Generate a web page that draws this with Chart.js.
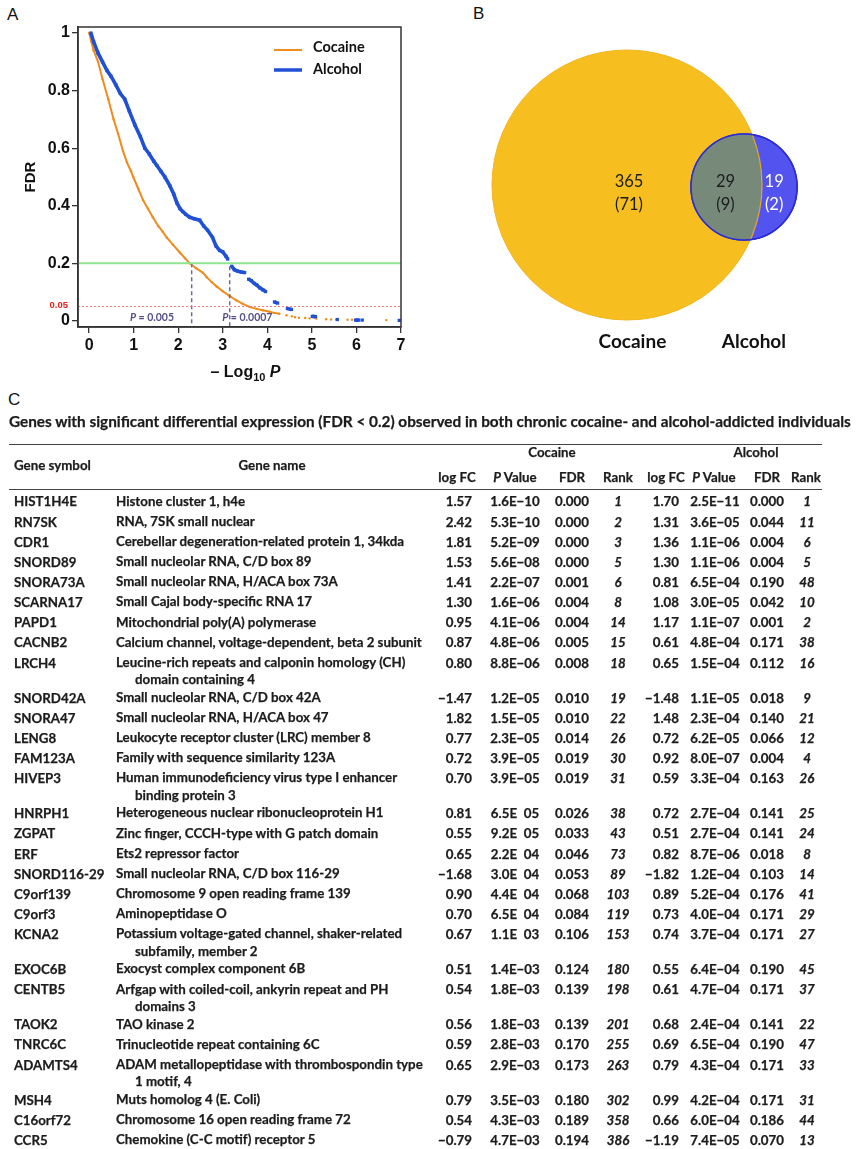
<!DOCTYPE html>
<html>
<head>
<meta charset="utf-8">
<script src="https://cdn.jsdelivr.net/npm/chart.js@4.4.1/dist/chart.umd.min.js"></script>
<style>
  html, body { margin: 0; padding: 0; background: #fff; }
  #page { position: relative; width: 860px; height: 1149px; overflow: hidden;
          font-family: Lato, "Open Sans", sans-serif; color: #1c1c1c; }
  .letter { position: absolute; font-family: "Liberation Sans", Arial, sans-serif;
            font-size: 17px; line-height: 17px; color: #111; }
  #chartA { position: absolute; left: 0; top: 0; }
  #chartB { position: absolute; left: 420px; top: 0; }
  #tableC { position: absolute; left: 0; top: 0; width: 860px; height: 1149px; }
  .t { position: absolute; white-space: nowrap; font-weight: 700; font-size: 13.3px; line-height: 16px;
       -webkit-text-stroke: 0.25px #1c1c1c; }
  .it { font-style: italic; }
  .name { white-space: normal; width: 293px; padding-left: 19px; text-indent: -19px; line-height: 17.5px; }
  .rule { position: absolute; left: 9px; width: 813px; height: 0; border-top: 1px solid #444; }
  #caption { position: absolute; left: 9px; top: 413px; font-weight: 700; font-size: 14.5px;
             line-height: 18px; white-space: nowrap; transform-origin: left center;
             -webkit-text-stroke: 0.25px #1c1c1c; }
</style>
</head>
<body>
<div id="page">
  <div class="letter" style="left:7px;top:6px;">A</div>
  <div class="letter" style="left:473px;top:5px;">B</div>
  <div class="letter" style="left:8px;top:391px;">C</div>
  <canvas id="chartA" width="420" height="385"></canvas>
  <canvas id="chartB" width="440" height="385"></canvas>
  <div id="tableC"></div>
</div>
<script>
// ---------- Panel A: FDR against -log10 P ----------
const xTicks = [0, 1, 2, 3, 4, 5, 6, 7];
const yTicks = [0, 0.2, 0.4, 0.6, 0.8, 1];
const yTickLabels = ['0', '0.2', '0.4', '0.6', '0.8', '1'];

// Cocaine: -log10 P and FDR (null marks a break in the trace)
const cocaineLogP = [0.00, 0.05, 0.10, 0.20, 0.30, 0.43, 0.55, 0.65, 0.76, 0.85, 0.94, 0.99, 1.10, 1.21, 1.32, 1.43,
  1.55, 1.65, 1.74, 1.88, 2.04, 2.15, 2.26, 2.40, 2.55, 2.64, 2.75, 2.86, 3.00, 3.15, 3.30, 3.45, 3.60, 3.76, 3.90,
  4.05, 4.15, 4.27, null, 4.43, null, 4.55, null, 4.62, null, 4.71, null, 4.85, null, 4.95, null, 5.10, null, 5.32,
  null, 5.43, null, 5.55, null, 5.80, null, 5.90, null, 6.67];
const cocaineFDR = [1.00, 0.97, 0.94, 0.90, 0.84, 0.77, 0.70, 0.65, 0.59, 0.55, 0.52, 0.50, 0.46, 0.42, 0.39, 0.36,
  0.33, 0.31, 0.29, 0.265, 0.237, 0.218, 0.200, 0.183, 0.168, 0.152, 0.135, 0.120, 0.103, 0.087, 0.072, 0.059, 0.049,
  0.042, 0.037, 0.032, 0.028, 0.025, null, 0.020, null, 0.016, null, 0.013, null, 0.011, null, 0.010, null, 0.009, null,
  0.008, null, 0.006, null, 0.005, null, 0.005, null, 0.004, null, 0.004, null, 0.003];

// Alcohol: -log10 P and FDR (null marks a break in the trace)
const alcoholLogP = [0.04, 0.10, 0.20, 0.30, 0.40, 0.49, 0.60, 0.70, 0.80, 0.90, 1.03, 1.15, 1.25, 1.35, 1.45, 1.52,
  1.61, 1.70, 1.81, 1.90, 1.97, 2.04, 2.10, 2.17, 2.26, 2.36, 2.48, 2.57, 2.66, 2.77, 2.85, 2.93, 3.00, 3.07, 3.11, null,
  3.20, 3.26, 3.33, 3.41, 3.49, null, 3.58, 3.64, 3.71, 3.76, 3.83, 3.90, 3.96, null, 4.16, 4.23, null, 4.45, 4.54, null,
  5.01, 5.08, null, 5.57, null, 5.98, 6.05, null, 6.13, null, 6.96];
const alcoholFDR = [1.00, 0.97, 0.93, 0.90, 0.87, 0.85, 0.82, 0.79, 0.77, 0.73, 0.68, 0.64, 0.60, 0.58, 0.555, 0.54,
  0.52, 0.50, 0.47, 0.44, 0.41, 0.39, 0.38, 0.37, 0.36, 0.355, 0.35, 0.33, 0.315, 0.29, 0.26, 0.245, 0.24, 0.225, 0.215,
  null, 0.19, 0.178, 0.173, 0.170, 0.168, null, 0.145, 0.140, 0.130, 0.125, 0.115, 0.108, 0.102, null, 0.066, 0.062, null,
  0.043, 0.040, null, 0.016, 0.015, null, 0.005, null, 0.003, 0.003, null, 0.003, null, 0.002];

const fdrCutoff = 0.2;
const fdrStrict = 0.05;
const pAtCutoff = [0.005, 0.0007];      // cocaine, alcohol
const curveAtCutoff = [0.2, 0.19];      // FDR of each trace where its dashed drop line starts
const xRange = [-0.25, 7];
const yRange = [-0.021, 1.021];

const pts = (xs, ys) => xs.map((x, i) => ({ x: x, y: ys[i] }));
const cutLogP = pAtCutoff.map(p => -Math.log10(p));

const ORANGE = '#F08C1E', BLUE = '#2050D6';

const panelAExtras = {
  id: 'panelAExtras',
  afterDraw(chart) {
    const { ctx, chartArea: a, scales: { x, y } } = chart;
    ctx.save();
    // frame
    ctx.strokeStyle = '#333'; ctx.lineWidth = 1.5;
    ctx.strokeRect(a.left, a.top, a.right - a.left, a.bottom - a.top);
    // legend
    const items = chart.data.datasets.filter(d => d.inLegend);
    items.forEach((d, i) => {
      const ly = 50 + i * 20;
      ctx.strokeStyle = d.borderColor; ctx.lineWidth = d.legendWidth;
      ctx.beginPath(); ctx.moveTo(274, ly); ctx.lineTo(302, ly); ctx.stroke();
      ctx.fillStyle = '#111'; ctx.font = 'bold 14.5px Lato, sans-serif';
      ctx.textBaseline = 'middle'; ctx.textAlign = 'left';
      ctx.fillText(d.label, 313, ly - 3 + i * 2);
    });
    // strict FDR label
    ctx.fillStyle = '#E52222'; ctx.font = 'bold 9.5px "Liberation Sans", Arial, sans-serif';
    ctx.textAlign = 'right'; ctx.textBaseline = 'middle';
    ctx.fillText(String(fdrStrict), 68, y.getPixelForValue(fdrStrict) - 1);
    // P labels at the drop lines
    const pLab = [{ p: pAtCutoff[0], x: 1.41 }, { p: pAtCutoff[1], x: 3.55 }];
    pLab.forEach(l => {
      const px = x.getPixelForValue(l.x), py = y.getPixelForValue(0.013);
      const rest = ' = ' + l.p;
      ctx.font = 'italic bold 10.5px Lato, sans-serif';
      const wp = ctx.measureText('P').width;
      ctx.font = 'bold 10.5px Lato, sans-serif';
      const wr = ctx.measureText(rest).width;
      const x0 = px - (wp + wr) / 2;
      ctx.fillStyle = '#56508A'; ctx.textAlign = 'left';
      ctx.font = 'italic bold 10.5px Lato, sans-serif'; ctx.fillText('P', x0, py);
      ctx.font = 'bold 10.5px Lato, sans-serif'; ctx.fillText(rest, x0 + wp, py);
    });
    // x title:  – Log10 P
    ctx.fillStyle = '#111'; ctx.textBaseline = 'alphabetic';
    const f1 = 'bold 16px "Liberation Sans", Arial, sans-serif';
    const f2 = 'bold 11px "Liberation Sans", Arial, sans-serif';
    const f3 = 'italic bold 16px "Liberation Sans", Arial, sans-serif';
    const parts = [['\u2013 Log', f1, 0], ['10', f2, 4], [' P', f3, 0]];
    let tw = 0;
    parts.forEach(p => { ctx.font = p[1]; tw += ctx.measureText(p[0]).width; });
    let cx = (a.left + a.right) / 2 + 6 - tw / 2;
    parts.forEach(p => { ctx.font = p[1]; ctx.fillText(p[0], cx, 377 + p[2]); cx += ctx.measureText(p[0]).width; });
    // y title
    ctx.save();
    ctx.translate(31, (a.top + a.bottom) / 2);
    ctx.rotate(-Math.PI / 2);
    ctx.font = 'bold 15px "Liberation Sans", Arial, sans-serif';
    ctx.textAlign = 'center'; ctx.textBaseline = 'middle';
    ctx.fillText('FDR', 0, 0);
    ctx.restore();
    ctx.restore();
  }
};

const tickFont = { family: '"Liberation Sans", Arial, sans-serif', size: 16, weight: 'bold' };

new Chart(document.getElementById('chartA'), {
  type: 'scatter',
  data: {
    datasets: [
      { label: 'FDR cutoff', data: [{ x: xRange[0], y: fdrCutoff }, { x: xRange[1], y: fdrCutoff }],
        showLine: true, borderColor: '#8FE58F', borderWidth: 2, pointRadius: 0, order: 0 },
      { label: 'FDR strict', data: [{ x: xRange[0], y: fdrStrict }, { x: xRange[1], y: fdrStrict }],
        showLine: true, borderColor: '#F07A7A', borderWidth: 1, borderDash: [2, 2], pointRadius: 0, order: 0 },
      { label: 'Cocaine cutoff', data: [{ x: cutLogP[0], y: curveAtCutoff[0] }, { x: cutLogP[0], y: yRange[0] }],
        showLine: true, borderColor: '#6F679F', borderWidth: 1.5, borderDash: [4, 3], pointRadius: 0, order: 0 },
      { label: 'Alcohol cutoff', data: [{ x: cutLogP[1], y: curveAtCutoff[1] }, { x: cutLogP[1], y: yRange[0] }],
        showLine: true, borderColor: '#6F679F', borderWidth: 1.5, borderDash: [4, 3], pointRadius: 0, order: 0 },
      { label: 'Cocaine', inLegend: true, legendWidth: 2, data: pts(cocaineLogP, cocaineFDR), showLine: true,
        borderColor: ORANGE, backgroundColor: ORANGE, borderWidth: 2, pointRadius: 1.2, pointBorderWidth: 0,
        spanGaps: false, order: 2 },
      { label: 'Alcohol', inLegend: true, legendWidth: 3.5, data: pts(alcoholLogP, alcoholFDR), showLine: true,
        borderColor: BLUE, backgroundColor: BLUE, borderWidth: 3.6, pointStyle: 'rect', pointRadius: 2.3,
        pointBorderWidth: 0, spanGaps: false, order: 1 }
    ]
  },
  options: {
    responsive: false, animation: false,
    layout: { padding: { top: 27, right: 19, left: 0, bottom: 0 } },
    plugins: { legend: { display: false }, tooltip: { enabled: false } },
    scales: {
      x: {
        type: 'linear', min: xRange[0], max: xRange[1],
        afterBuildTicks: s => { s.ticks = xTicks.map(v => ({ value: v })); },
        afterFit: s => { s.height = 58; },
        grid: { drawOnChartArea: false, drawTicks: true, tickLength: 6, color: '#333', lineWidth: 1.3 },
        border: { display: true, color: '#333', width: 1.5 },
        ticks: { color: '#111', font: tickFont, padding: 3, maxRotation: 0, autoSkip: false }
      },
      y: {
        type: 'linear', min: yRange[0], max: yRange[1],
        afterBuildTicks: s => { s.ticks = yTicks.map(v => ({ value: v })); },
        afterFit: s => { s.width = 78; },
        grid: { drawOnChartArea: false, drawTicks: true, tickLength: 6, color: '#333', lineWidth: 1.3 },
        border: { display: true, color: '#333', width: 1.5 },
        ticks: { color: '#111', font: tickFont, padding: 2, autoSkip: false,
                 callback: (v, i) => yTickLabels[i] }
      }
    }
  },
  plugins: [panelAExtras]
});

// ---------- Panel B: overlap of differentially expressed genes ----------
const vennSets = ['Cocaine', 'Alcohol'];
const vennOnlyCocaine = [365, 71];
const vennShared = [29, 9];
const vennOnlyAlcohol = [19, 2];

// circle geometry in units of the cocaine radius
const vennLayout = {
  xRange: [-1.5333, 1.7259], yRange: [-1.4815, 1.3704], widthPx: 440,
  circles: [{ x: 0, y: 0, size: 1 }, { x: 0.867, y: -0.015, size: 0.393 }],
  countPos: [{ x: 0.015, y: 0 }, { x: 0.73, y: 0 }, { x: 1.09, y: 0 }],
  namePos: [{ x: 0.04, y: -1.16 }, { x: 0.94, y: -1.16 }]
};
const pxPerUnit = vennLayout.widthPx / (vennLayout.xRange[1] - vennLayout.xRange[0]);
const vennBubbles = vennLayout.circles.map(c => ({ x: c.x, y: c.y, r: c.size * pxPerUnit }));

const vennExtras = {
  id: 'vennExtras',
  afterDatasetsDraw(chart) {
    const { ctx, scales: { x, y } } = chart;
    const big = chart.getDatasetMeta(0).data[0];
    const small = chart.getDatasetMeta(1).data[0];
    const rb = big.options.radius, rs = small.options.radius;
    ctx.save();
    // shared region
    ctx.beginPath(); ctx.arc(big.x, big.y, rb, 0, Math.PI * 2); ctx.clip();
    ctx.beginPath(); ctx.arc(small.x, small.y, rs, 0, Math.PI * 2);
    ctx.fillStyle = '#778A79'; ctx.fill();
    ctx.restore();
    ctx.save();
    ctx.beginPath(); ctx.arc(small.x, small.y, rs, 0, Math.PI * 2); ctx.clip();
    ctx.beginPath(); ctx.arc(big.x, big.y, rb, 0, Math.PI * 2);
    ctx.strokeStyle = '#E9A52A'; ctx.lineWidth = 1.2; ctx.stroke();
    ctx.restore();
    ctx.save();
    ctx.beginPath(); ctx.arc(small.x, small.y, rs, 0, Math.PI * 2);
    ctx.strokeStyle = '#2B2BD8'; ctx.lineWidth = 1.5; ctx.stroke();
    // counts
    const groups = [vennOnlyCocaine, vennShared, vennOnlyAlcohol];
    const colours = ['#1c1c1c', '#1c1c1c', '#ffffff'];
    ctx.font = '16.5px Lato, sans-serif'; ctx.textAlign = 'center'; ctx.textBaseline = 'middle';
    groups.forEach((g, i) => {
      const px = x.getPixelForValue(vennLayout.countPos[i].x);
      const py = y.getPixelForValue(vennLayout.countPos[i].y);
      ctx.fillStyle = colours[i];
      ctx.fillText(String(g[0]), px, py - 3);
      ctx.fillText('(' + g[1] + ')', px, py + 20);
    });
    // set names
    ctx.fillStyle = '#111'; ctx.font = 'bold 19px Lato, sans-serif';
    vennSets.forEach((s, i) => {
      ctx.fillText(s, x.getPixelForValue(vennLayout.namePos[i].x), y.getPixelForValue(vennLayout.namePos[i].y));
    });
    ctx.restore();
  }
};

new Chart(document.getElementById('chartB'), {
  type: 'bubble',
  data: {
    datasets: [
      { label: vennSets[0], data: [vennBubbles[0]], backgroundColor: '#F6BE1F', borderColor: '#F3B51E',
        borderWidth: 1, hoverRadius: 0, clip: false, order: 2 },
      { label: vennSets[1], data: [vennBubbles[1]], backgroundColor: '#5353EF', borderColor: '#2B2BD8',
        borderWidth: 1.5, hoverRadius: 0, clip: false, order: 1 }
    ]
  },
  options: {
    responsive: false, animation: false,
    layout: { padding: 0, autoPadding: false },
    plugins: { legend: { display: false }, tooltip: { enabled: false } },
    scales: {
      x: { type: 'linear', display: false, min: vennLayout.xRange[0], max: vennLayout.xRange[1] },
      y: { type: 'linear', display: false, min: vennLayout.yRange[0], max: vennLayout.yRange[1] }
    }
  },
  plugins: [vennExtras]
});

// ---------- Panel C: table of shared genes ----------
const geneSymbols = ['HIST1H4E', 'RN7SK', 'CDR1', 'SNORD89', 'SNORA73A', 'SCARNA17', 'PAPD1', 'CACNB2', 'LRCH4',
  'SNORD42A', 'SNORA47', 'LENG8', 'FAM123A', 'HIVEP3', 'HNRPH1', 'ZGPAT', 'ERF', 'SNORD116-29', 'C9orf139', 'C9orf3',
  'KCNA2', 'EXOC6B', 'CENTB5', 'TAOK2', 'TNRC6C', 'ADAMTS4', 'MSH4', 'C16orf72', 'CCR5'];
const geneNames = ['Histone cluster 1, h4e', 'RNA, 7SK small nuclear', 'Cerebellar degeneration-related protein 1, 34kda',
  'Small nucleolar RNA, C/D box 89', 'Small nucleolar RNA, H/ACA box 73A', 'Small Cajal body-specific RNA 17',
  'Mitochondrial poly(A) polymerase', 'Calcium channel, voltage-dependent, beta 2 subunit',
  'Leucine-rich repeats and calponin homology (CH) domain containing 4', 'Small nucleolar RNA, C/D box 42A',
  'Small nucleolar RNA, H/ACA box 47', 'Leukocyte receptor cluster (LRC) member 8', 'Family with sequence similarity 123A',
  'Human immunodeficiency virus type I enhancer binding protein 3', 'Heterogeneous nuclear ribonucleoprotein H1',
  'Zinc finger, CCCH-type with G patch domain', 'Ets2 repressor factor', 'Small nucleolar RNA, C/D box 116-29',
  'Chromosome 9 open reading frame 139', 'Aminopeptidase O',
  'Potassium voltage-gated channel, shaker-related subfamily, member 2', 'Exocyst complex component 6B',
  'Arfgap with coiled-coil, ankyrin repeat and PH domains 3', 'TAO kinase 2', 'Trinucleotide repeat containing 6C',
  'ADAM metallopeptidase with thrombospondin type 1 motif, 4', 'Muts homolog 4 (E. Coli)',
  'Chromosome 16 open reading frame 72', 'Chemokine (C-C motif) receptor 5'];
const cocaineLogFC = [1.57, 2.42, 1.81, 1.53, 1.41, 1.30, 0.95, 0.87, 0.80, -1.47, 1.82, 0.77, 0.72, 0.70, 0.81, 0.55,
  0.65, -1.68, 0.90, 0.70, 0.67, 0.51, 0.54, 0.56, 0.59, 0.65, 0.79, 0.54, -0.79];
const cocaineP = ['1.6E\u221210', '5.3E\u221210', '5.2E\u221209', '5.6E\u221208', '2.2E\u221207', '1.6E\u221206',
  '4.1E\u221206', '4.8E\u221206', '8.8E\u221206', '1.2E\u221205', '1.5E\u221205', '2.3E\u221205', '3.9E\u221205',
  '3.9E\u221205', '6.5E\u200205', '9.2E\u200205', '2.2E\u200204', '3.0E\u200204', '4.4E\u200204', '6.5E\u200204',
  '1.1E\u200203', '1.4E\u221203', '1.8E\u221203', '1.8E\u221203', '2.8E\u221203', '2.9E\u221203', '3.5E\u221203',
  '4.3E\u221203', '4.7E\u221203'];
const cocaineFDRcol = ['0.000', '0.000', '0.000', '0.000', '0.001', '0.004', '0.004', '0.005', '0.008', '0.010', '0.010',
  '0.014', '0.019', '0.019', '0.026', '0.033', '0.046', '0.053', '0.068', '0.084', '0.106', '0.124', '0.139', '0.139',
  '0.170', '0.173', '0.180', '0.189', '0.194'];
const cocaineRank = [1, 2, 3, 5, 6, 8, 14, 15, 18, 19, 22, 26, 30, 31, 38, 43, 73, 89, 103, 119, 153, 180, 198, 201, 255,
  263, 302, 358, 386];
const alcoholLogFC = [1.70, 1.31, 1.36, 1.30, 0.81, 1.08, 1.17, 0.61, 0.65, -1.48, 1.48, 0.72, 0.92, 0.59, 0.72, 0.51,
  0.82, -1.82, 0.89, 0.73, 0.74, 0.55, 0.61, 0.68, 0.69, 0.79, 0.99, 0.66, -1.19];
const alcoholP = ['2.5E\u221211', '3.6E\u221205', '1.1E\u221206', '1.1E\u221206', '6.5E\u221204', '3.0E\u221205',
  '1.1E\u221207', '4.8E\u221204', '1.5E\u221204', '1.1E\u221205', '2.3E\u221204', '6.2E\u221205', '8.0E\u221207',
  '3.3E\u221204', '2.7E\u221204', '2.7E\u221204', '8.7E\u221206', '1.2E\u221204', '5.2E\u221204', '4.0E\u221204',
  '3.7E\u221204', '6.4E\u221204', '4.7E\u221204', '2.4E\u221204', '6.5E\u221204', '4.3E\u221204', '4.2E\u221204',
  '6.0E\u221204', '7.4E\u221205'];
const alcoholFDRcol = ['0.000', '0.044', '0.004', '0.004', '0.190', '0.042', '0.001', '0.171', '0.112', '0.018', '0.140',
  '0.066', '0.004', '0.163', '0.141', '0.141', '0.018', '0.103', '0.176', '0.171', '0.171', '0.190', '0.171', '0.141',
  '0.190', '0.171', '0.171', '0.186', '0.070'];
const alcoholRank = [1, 11, 6, 5, 48, 10, 2, 38, 16, 9, 21, 12, 4, 26, 25, 24, 8, 14, 41, 29, 27, 45, 37, 22, 47, 33, 31,
  44, 13];
const tableTitle = 'Genes with significant differential expression (FDR < 0.2) observed in both chronic cocaine- and alcohol-addicted individuals';

(function buildTable() {
  const box = document.getElementById('tableC');
  const fmt = v => (v < 0 ? '\u2212' : '') + Math.abs(v).toFixed(2);
  function put(html, x, y, align, cls) {
    const d = document.createElement('div');
    d.className = 't' + (cls ? ' ' + cls : '');
    d.innerHTML = html;
    if (align === 'left') d.style.left = x + 'px';
    else if (align === 'right') d.style.right = (860 - x) + 'px';
    else { d.style.left = (x - 60) + 'px'; d.style.width = '120px'; d.style.textAlign = 'center'; }
    d.style.top = (y - 8.6) + 'px';
    box.appendChild(d);
    return d;
  }
  const cap = document.createElement('div');
  cap.id = 'caption'; cap.textContent = tableTitle;
  box.appendChild(cap);
  cap.style.transform = 'scaleX(' + (842 / cap.scrollWidth) + ')';

  [444, 489].forEach(t => {
    const r = document.createElement('div'); r.className = 'rule'; r.style.top = t + 'px'; box.appendChild(r);
  });
  put('Cocaine', 552, 453, 'center');
  put('Alcohol', 756, 453, 'center');
  put('Gene symbol', 14, 466, 'left');
  put('Gene name', 272, 466, 'center');
  const sub = [['log FC', 457], ['<i>P</i> Value', 515], ['FDR', 572], ['Rank', 618],
               ['log FC', 666], ['<i>P</i> Value', 714], ['FDR', 767], ['Rank', 806]];
  sub.forEach(s => put(s[0], s[1], 478, 'center'));

  let y = 502;
  geneSymbols.forEach((sym, i) => {
    put(sym, 14, y, 'left');
    const nm = put(geneNames[i], 116, y - 0.75, 'left', 'name');
    const wrapped = nm.offsetHeight > 24;
    put(fmt(cocaineLogFC[i]), 472, y, 'right');
    put(cocaineP[i], 515, y, 'center');
    put(cocaineFDRcol[i], 572, y, 'center');
    put(String(cocaineRank[i]), 618, y, 'center', 'it');
    put(fmt(alcoholLogFC[i]), 679, y, 'right');
    put(alcoholP[i], 715, y, 'center');
    put(alcoholFDRcol[i], 767, y, 'center');
    put(String(alcoholRank[i]), 807, y, 'center', 'it');
    y += 20.15 + (wrapped ? 14.85 : 0);
  });
})();
</script>
</body>
</html>
